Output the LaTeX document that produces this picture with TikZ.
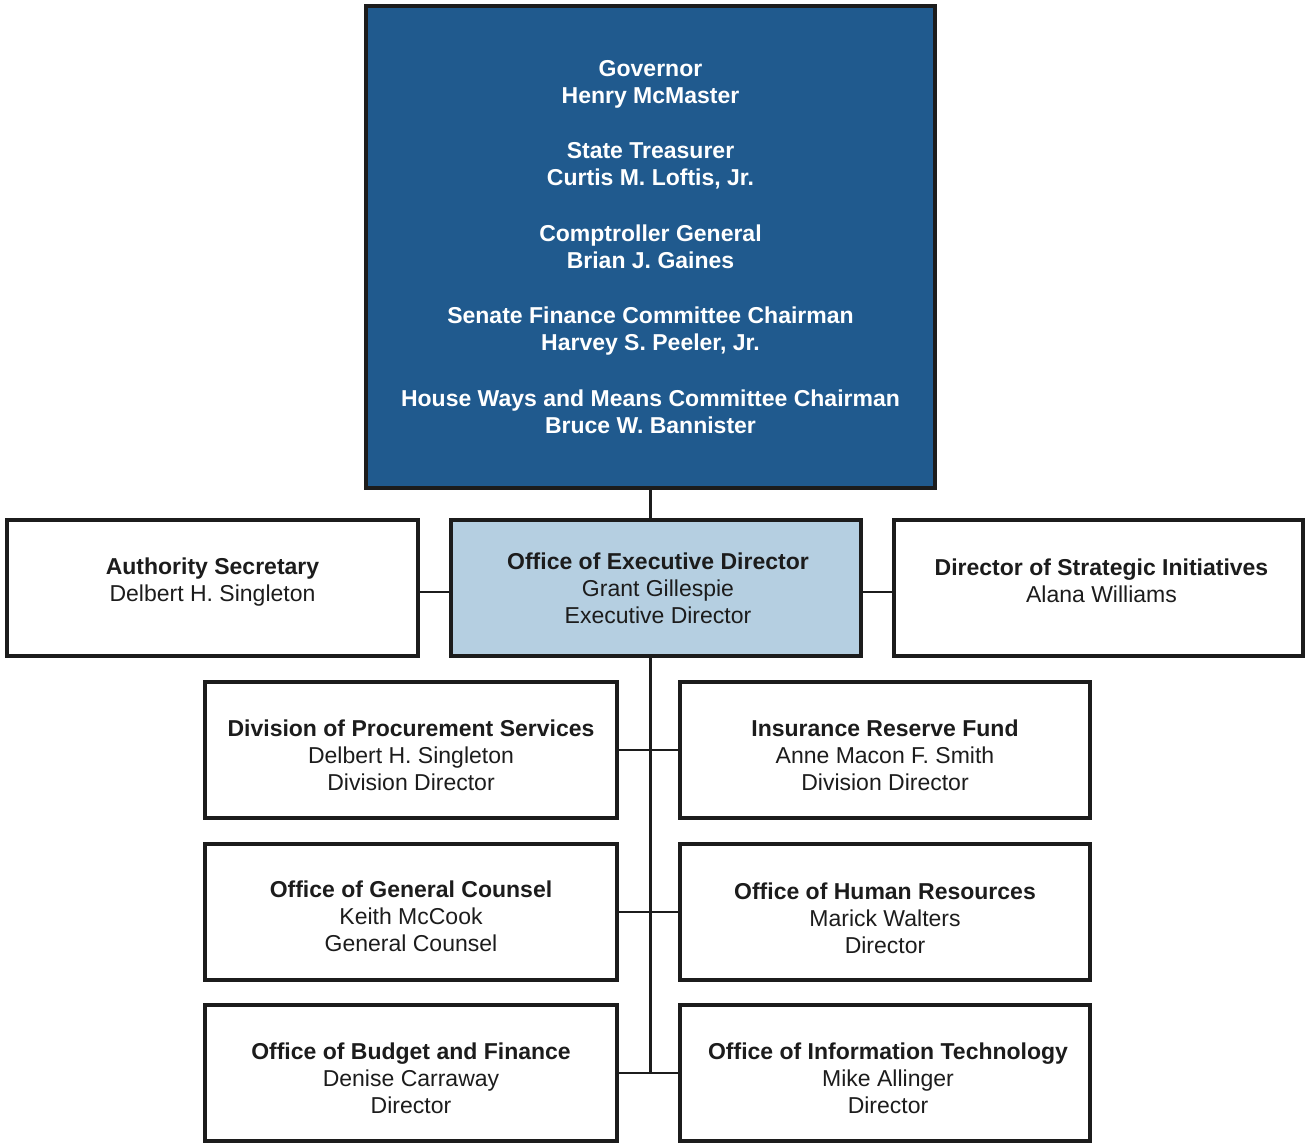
\documentclass[tikz,border=0pt]{standalone}
\usepackage{fontspec}
\setmainfont{Liberation Sans}
\definecolor{darkbox}{HTML}{205A8E}
\definecolor{lightbox}{HTML}{B5CFE1}
\definecolor{ink}{HTML}{1C1C1C}
\tikzset{
  orgbox/.style={draw=ink, line width=4pt, minimum height=136pt, inner sep=0pt},
  orgtext/.style={align=center, text=ink, inner sep=0pt, font=\fontsize{23}{27}\selectfont},
  link/.style={draw=ink, line width=2.5pt}
}
\begin{document}
\begin{tikzpicture}[x=1pt,y=-1pt]
\useasboundingbox (0,0) rectangle (1307,1144);
\node[orgbox, fill=darkbox, minimum width=569pt, minimum height=482pt] (top) at (650.5,247) {};
\node[orgtext, text=white] (toptxt) at (top.center)
 {\textbf{Governor}\\\textbf{Henry McMaster}\\[28.5pt]
  \textbf{State Treasurer}\\\textbf{Curtis M. Loftis, Jr.}\\[28.5pt]
  \textbf{Comptroller General}\\\textbf{Brian J. Gaines}\\[28.5pt]
  \textbf{Senate Finance Committee Chairman}\\\textbf{Harvey S. Peeler, Jr.}\\[28.5pt]
  \textbf{House Ways and Means Committee Chairman}\\\textbf{Bruce W. Bannister}};
\node[orgbox, minimum width=411pt] (auth) at (212.5,588) {};
\node[orgtext] (authtxt) at ([yshift=6pt]auth.center)
 {\textbf{Authority Secretary}\\Delbert H. Singleton};
\node[orgbox, fill=lightbox, minimum width=410pt] (exec) at (656,588) {};
\node[orgtext] (exectxt) at ([xshift=2pt]exec.center)
 {\textbf{Office of Executive Director}\\Grant Gillespie\\Executive Director};
\node[orgbox, minimum width=409pt] (strat) at (1098.5,588) {};
\node[orgtext] (strattxt) at ([xshift=3pt,yshift=7pt]strat.center)
 {\textbf{Director of Strategic Initiatives}\\Alana Williams};
\node[orgbox, minimum width=412pt] (proc) at (411,750) {};
\node[orgtext] (proctxt) at ([yshift=-5pt]proc.center)
 {\textbf{Division of Procurement Services}\\Delbert H. Singleton\\Division Director};
\node[orgbox, minimum width=410pt] (irf) at (885,750) {};
\node[orgtext] (irftxt) at ([yshift=-5pt]irf.center)
 {\textbf{Insurance Reserve Fund}\\Anne Macon F. Smith\\Division Director};
\node[orgbox, minimum width=412pt] (ogc) at (411,912) {};
\node[orgtext] (ogctxt) at ([yshift=-4pt]ogc.center)
 {\textbf{Office of General Counsel}\\Keith McCook\\General Counsel};
\node[orgbox, minimum width=410pt] (hr) at (885,912) {};
\node[orgtext] (hrtxt) at ([yshift=-6pt]hr.center)
 {\textbf{Office of Human Resources}\\Marick Walters\\Director};
\node[orgbox, minimum width=412pt] (obf) at (411,1073) {};
\node[orgtext] (obftxt) at ([yshift=-5pt]obf.center)
 {\textbf{Office of Budget and Finance}\\Denise Carraway\\Director};
\node[orgbox, minimum width=410pt] (oit) at (885,1073) {};
\node[orgtext] (oittxt) at ([xshift=3pt,yshift=-5pt]oit.center)
 {\textbf{Office of Information Technology}\\Mike Allinger\\Director};
\coordinate (trunkend) at (top.south |- obf.east);
\draw[link] (top.south) -- (top.south |- exec.north);
\draw[link] ([yshift=-4pt]auth.east) -- ([yshift=-4pt]exec.west);
\draw[link] ([yshift=-4pt]exec.east) -- ([yshift=-4pt]strat.west);
\draw[link] (top.south |- exec.south) -- (trunkend);
\draw[link] (proc.east) -- (irf.west);
\draw[link] (ogc.east) -- (hr.west);
\draw[link] (obf.east) -- (oit.west);
\end{tikzpicture}
\end{document}
